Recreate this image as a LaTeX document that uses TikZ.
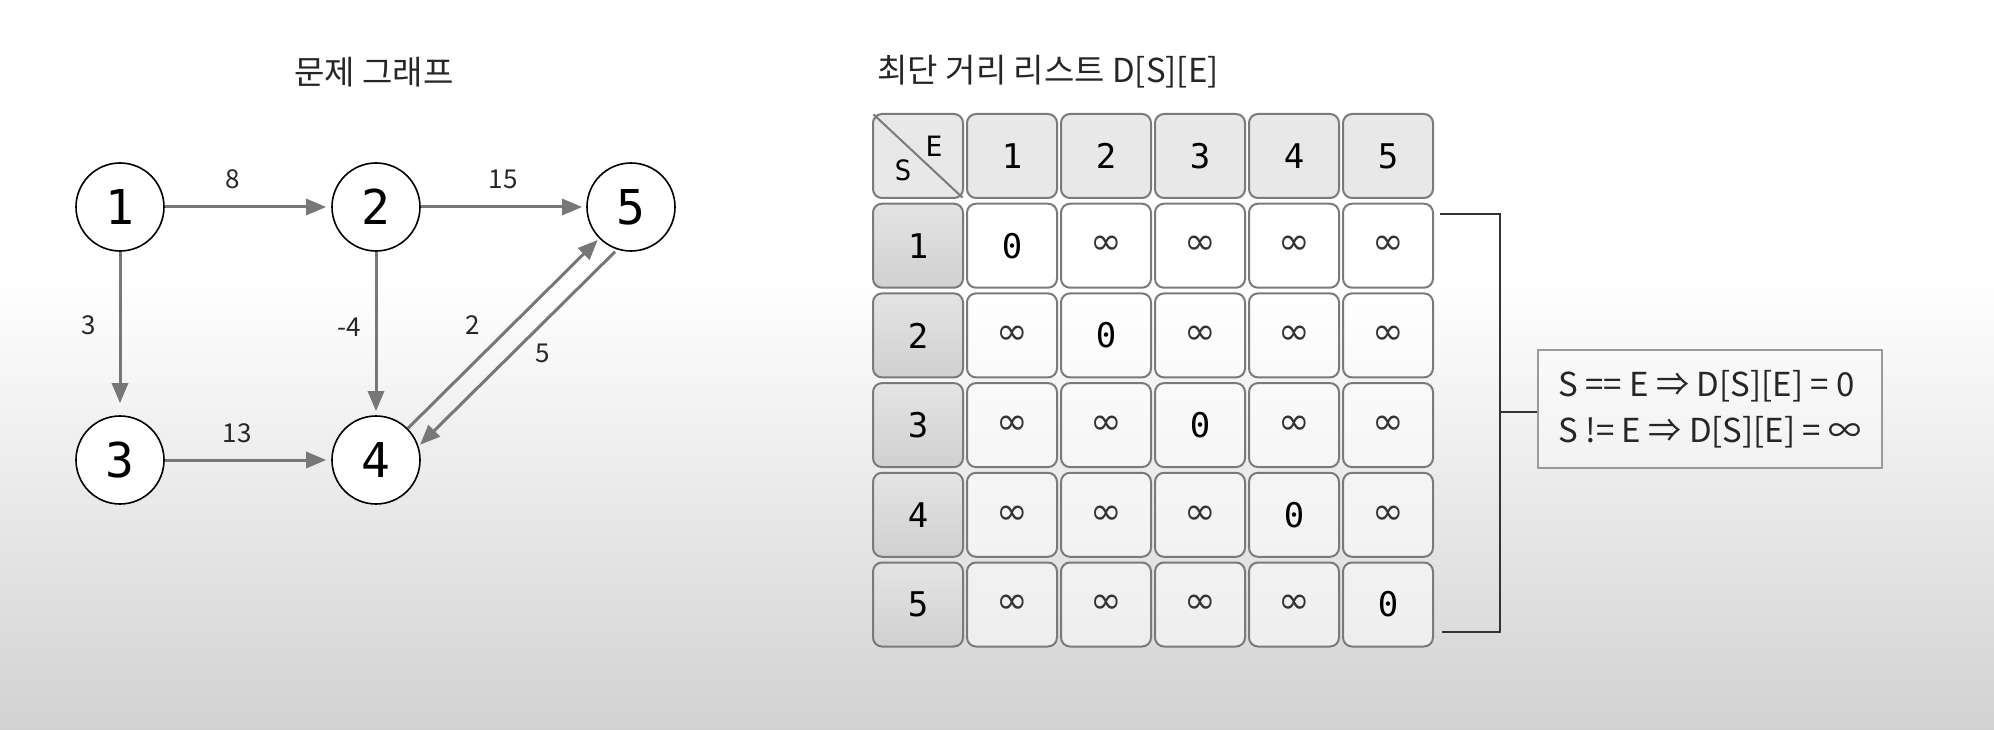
\documentclass[tikz,border=0pt]{standalone}
\usepackage{fontspec}
\setmainfont{DejaVu Sans}
\newfontfamily\kr{Noto Sans CJK KR}
\newfontfamily\mono{DejaVu Sans Mono}
\newfontfamily\dvs{DejaVu Sans}
\usetikzlibrary{arrows.meta,calc}
\definecolor{edgec}{HTML}{777777}
\definecolor{cellb}{HTML}{7A7A7A}
\definecolor{bgbot}{HTML}{D2D2D2}
\definecolor{hdrfill}{HTML}{E8E8E8}
\definecolor{rowtop}{HTML}{E4E4E4}
\definecolor{rowbot}{HTML}{D0D0D0}
\definecolor{brk}{HTML}{333333}
\definecolor{boxb}{HTML}{9A9A9A}
\newcommand\fs[1]{\fontsize{#1}{#1}\selectfont}
\newcommand\inftysym{{\dvs\fs{38}\textcolor{black!80}{∞}}}
\begin{document}
\begin{tikzpicture}[x=1pt,y=-1pt,
  vert/.style={circle,draw=black,line width=1.6pt,fill=white,minimum size=88pt,inner sep=0pt,font=\mono\fs{48}},
  edge/.style={draw=edgec,line width=3pt,-{Triangle[length=20pt,width=16pt]}},
  elab/.style={font=\kr\fs{26},text=black!85},
  cellbase/.style={rectangle,rounded corners=9pt,draw=cellb,line width=2pt,minimum width=90pt,minimum height=84pt,inner sep=0pt},
  hdrcell/.style={cellbase,fill=hdrfill,font=\mono\fs{34}},
  rowcell/.style={cellbase,top color=rowtop,bottom color=rowbot,font=\mono\fs{34}},
  datcell/.style={cellbase,fill=white,fill opacity=0.55,text opacity=1,font=\mono\fs{34}},
  bracketline/.style={draw=brk,line width=2.4pt},
  title/.style={font=\kr\fs{33},text=black!85}
]
\useasboundingbox (0,0) rectangle (1994,730);
\fill[white] (0,0) rectangle (1994,280);
\shade[top color=white,bottom color=bgbot] (0,280) rectangle (1994,730);

% ---------- graph ----------
\node[title] (t1) at (374,72) {문제 그래프};
\node[vert] (n1) at (120,207) {1};
\node[vert] (n2) at (376,207) {2};
\node[vert] (n5) at (631,207) {5};
\node[vert] (n3) at (120,460) {3};
\node[vert] (n4) at (376,460) {4};

\draw[edge,shorten >=5pt] (n1) -- (n2);
\draw[edge,shorten >=4pt] (n2) -- (n5);
\draw[edge,shorten >=12pt] (n1) -- (n3);
\draw[edge,shorten >=4pt] (n2) -- (n4);
\draw[edge,shorten >=5pt] (n3) -- (n4);
\draw[edge,shorten >=2pt] (n4) -- (n5);
\draw[edge,shorten >=2pt,shorten <=3pt] (n5.252) -- (n4.18);

\node[elab] (l12) at (233,179) {8};
\node[elab] (l25) at (503,179) {15};
\node[elab] (l13) at (89,325) {3};
\node[elab] (l24) at (349,327) {-4};
\node[elab] (l45) at (473,325) {2};
\node[elab] (l54) at (543,353) {5};
\node[elab] (l34) at (237,433) {13};

% ---------- table ----------
\node[title,anchor=west] (t2) at (874,72) {최단 거리 리스트 D[S][E]};

\node[hdrcell] (h0) at (918,156) {};
\draw[draw=cellb,line width=2pt,shorten <=2pt,shorten >=2pt] (h0.north west) -- (h0.south east);
\node[font=\mono\fs{28}] (hE) at ([shift={(16,-10)}]h0.center) {E};
\node[font=\mono\fs{28}] (hS) at ([shift={(-15,14)}]h0.center) {S};

\foreach \i in {1,...,5}{
  \node[hdrcell] (h\i) at ({918+94*\i},156) {\i};
  \node[rowcell] (r\i) at (918,{156+89.7*\i}) {\i};
}
\foreach \j in {1,...,5}{
  \foreach \i in {1,...,5}{
    \ifnum\i=\j
      \node[datcell] (d\j\i) at ({918+94*\i},{156+89.7*\j}) {0};
    \else
      \node[datcell] (d\j\i) at ({918+94*\i},{156+89.7*\j}) {\inftysym};
    \fi
  }
}

% ---------- bracket and rule box ----------
\node[draw=boxb,line width=1.5pt,fill=white,fill opacity=0.35,text opacity=1,
      minimum width=344pt,minimum height=118pt,inner sep=0pt,align=left,
      font=\kr\fontsize{33}{46}\selectfont,text=black!85] (rule) at (1710,409)
      {S == E ⇒ D[S][E] = 0\\ S != E ⇒ D[S][E] = ∞};
\coordinate (bt) at (1440,214);
\coordinate (btr) at (1500,214);
\coordinate (bbr) at (1500,632);
\coordinate (bb) at (1442,632);
\coordinate (bm) at (1500,412);
\draw[bracketline] (bt) -- (btr) -- (bbr) -- (bb);
\draw[bracketline] (bm) -- (bm -| rule.west);
\end{tikzpicture}
\end{document}
